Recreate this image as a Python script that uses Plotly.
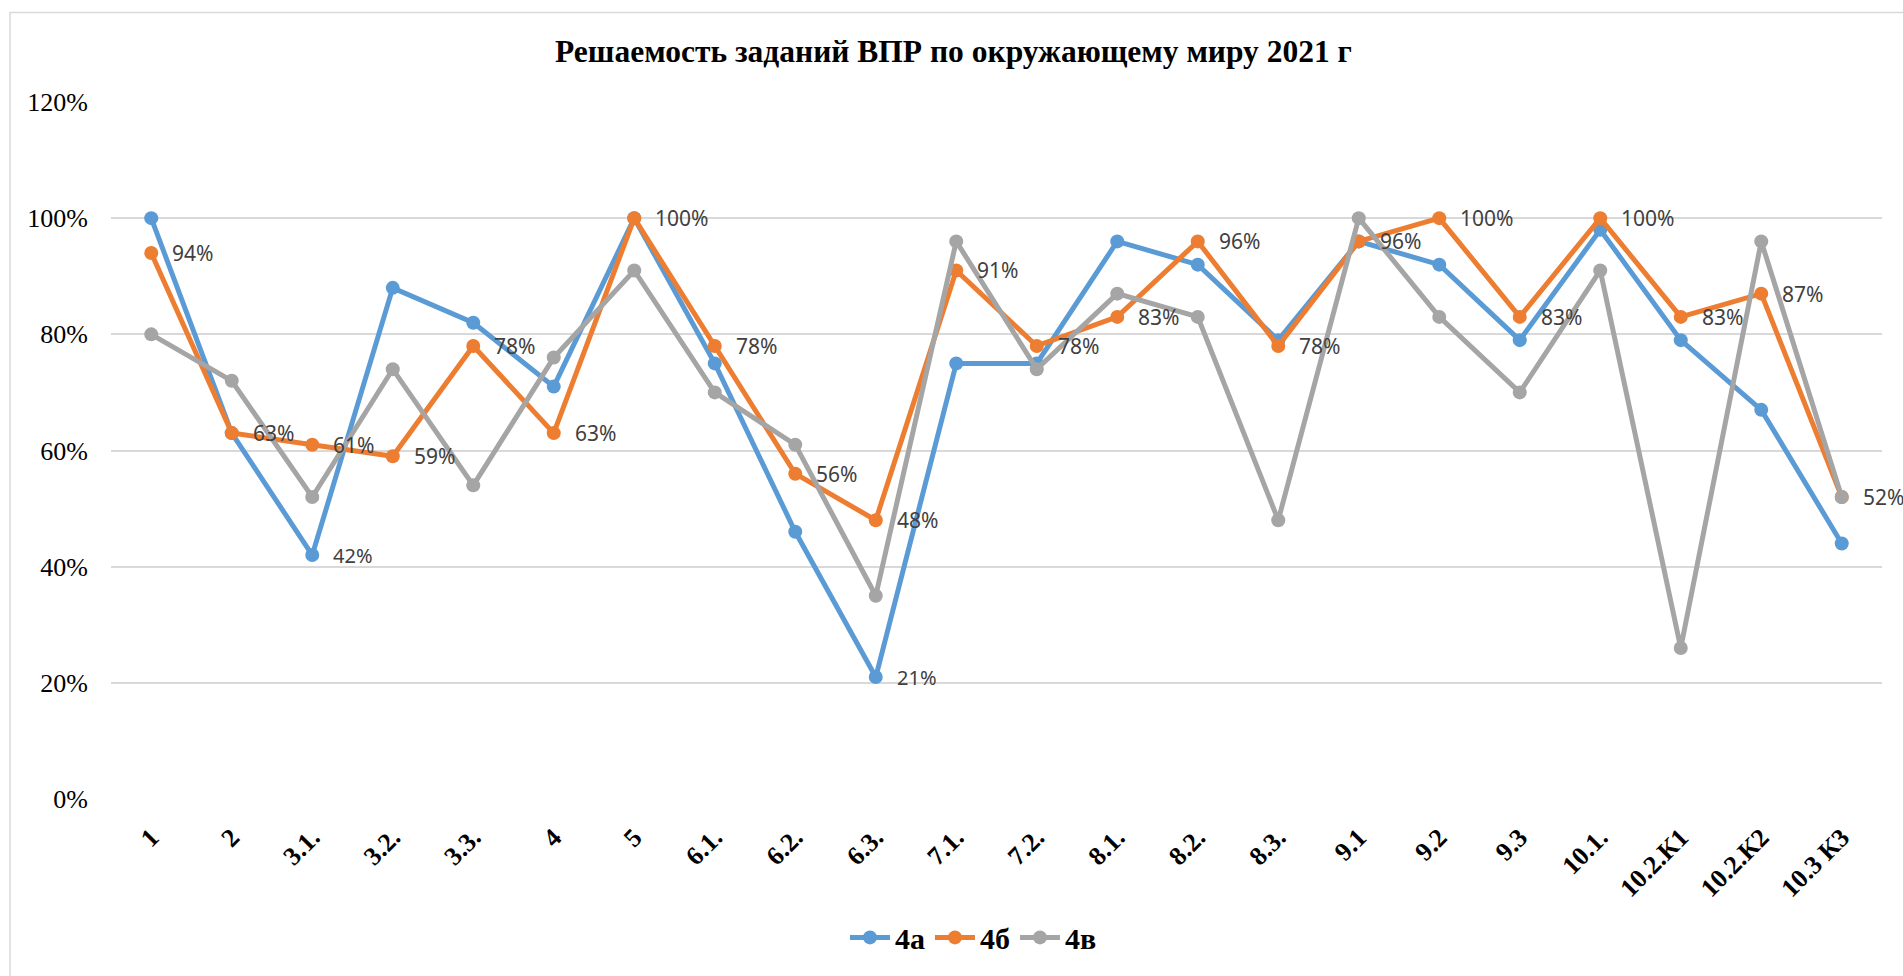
import plotly.graph_objects as go

categories = ["1", "2", "3.1.", "3.2.", "3.3.", "4", "5", "6.1.", "6.2.", "6.3.", "7.1.", "7.2.",
              "8.1.", "8.2.", "8.3.", "9.1", "9.2", "9.3", "10.1.", "10.2.К1", "10.2.К2", "10.3 К3"]
s_4a = [100, 63, 42, 88, 82, 71, 100, 75, 46, 21, 75, 75, 96, 92, 79, 96, 92, 79, 98, 79, 67, 44]
s_4b = [94, 63, 61, 59, 78, 63, 100, 78, 56, 48, 91, 78, 83, 96, 78, 96, 100, 83, 100, 83, 87, 52]
s_4v = [80, 72, 52, 74, 54, 76, 91, 70, 61, 35, 96, 74, 87, 83, 48, 100, 83, 70, 91, 26, 96, 52]
labelled_4a = ["3.1.", "6.3."]
series_names = ["4а", "4б", "4в"]
colors = ["#5B9BD5", "#ED7D31", "#A5A5A5"]
title = "Решаемость заданий ВПР по окружающему миру 2021 г"

serif = "Liberation Serif, Times New Roman, serif"

fig = go.Figure()
for name, vals, col in zip(series_names, [s_4a, s_4b, s_4v], colors):
    fig.add_trace(go.Scatter(
        x=categories, y=[v / 100 for v in vals], name=name, mode="lines+markers",
        line=dict(color=col, width=5), marker=dict(color=col, size=14),
        hoverinfo="x+y+name"))

label_font = dict(family="Noto Sans, Open Sans, sans-serif", size=21, color="#404040")
annotations = []
for i, v in enumerate(s_4b):
    annotations.append(dict(x=i, y=v / 100, text=f"{v}%", showarrow=False, xanchor="left",
                            yanchor="middle", xshift=20, borderpad=0, font=label_font))
for i, (c, v) in enumerate(zip(categories, s_4a)):
    if c in labelled_4a:
        annotations.append(dict(x=i, y=v / 100, text=f"{v}%", showarrow=False, xanchor="left",
                                yanchor="middle", xshift=20, borderpad=0, font=dict(label_font, size=20)))
annotations.append(dict(text=f"<b>{title}</b>", xref="paper", yref="paper", x=(953 - 111) / 1771,
                        y=(802 - 51) / 700, xanchor="center", yanchor="middle", showarrow=False,
                        font=dict(family=serif, size=31.5, color="#000000")))

fig.update_layout(
    width=1903, height=976,
    margin=dict(l=111, r=21, t=102, b=174),
    paper_bgcolor="white", plot_bgcolor="white",
    annotations=annotations,
    showlegend=True,
    legend=dict(orientation="h", x=0.487, y=(802 - 941) / 700, xanchor="center", yanchor="middle",
                font=dict(family=serif, size=30, color="#000000", weight="bold"),
                itemwidth=40, tracegroupgap=0),
    shapes=[dict(type="rect", xref="paper", yref="paper",
                 x0=(10 - 111) / 1771, x1=(1910 - 111) / 1771,
                 y0=(802 - 990) / 700, y1=(802 - 12) / 700,
                 line=dict(color="#D9D9D9", width=1.5), layer="below")],
)
fig.update_xaxes(type="category", range=[-0.5, len(categories) - 0.5], autorange=False,
                 showgrid=False, zeroline=False, showline=False, tickangle=-45,
                 ticks="", ticklabelstandoff=17,
                 tickfont=dict(family=serif, size=26, color="#000000", weight="bold"))
fig.update_yaxes(range=[0, 1.2], dtick=0.2, tickformat=".0%", showgrid=True, gridcolor="#D9D9D9",
                 gridwidth=1.5, zeroline=False, showline=False, ticks="", ticklabelstandoff=22,
                 tickfont=dict(family=serif, size=26, color="#000000"))

fig.write_html("out.html", config={"displayModeBar": False},
               post_script="document.body.style.margin='0';document.body.style.overflow='hidden';")
